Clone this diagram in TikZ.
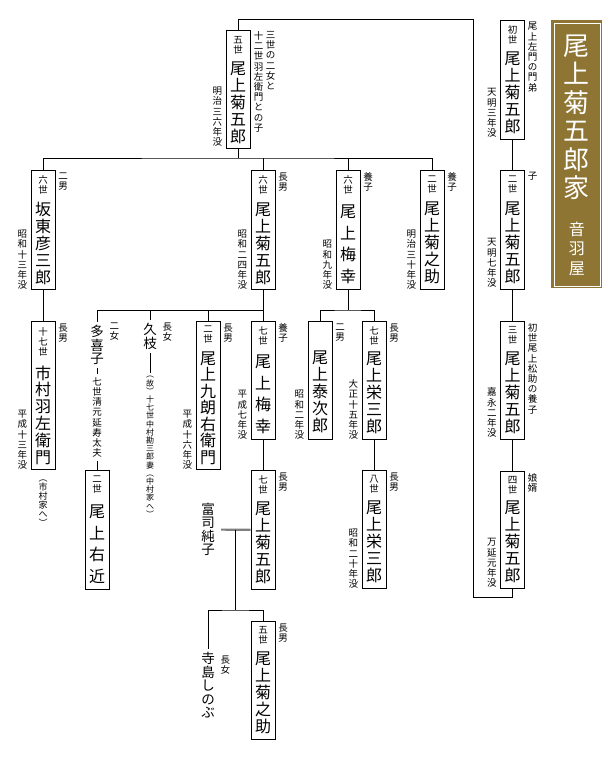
\documentclass[tikz,border=0pt]{standalone}
\usepackage{fontspec}
\setmainfont{Noto Sans CJK JP}
\usepackage{xcolor}
\usepackage{tikz}
\usetikzlibrary{positioning}
\definecolor{otowagold}{HTML}{8E7534}
\definecolor{tiegray}{HTML}{7F7F7F}

% one character per line (vertical writing)
\makeatletter
\newcommand\tate[1]{%
  \def\tate@out{}%
  \@tfor\tate@ch:=#1\do{%
    \edef\tate@out{\unexpanded\expandafter{\tate@out}%
      \ifx\tate@out\@empty\else\noexpand\\\fi
      \unexpanded\expandafter{\tate@ch}}}%
  \tate@out}
\makeatother

\begin{document}
\begin{tikzpicture}[x=1pt, y=-1pt, line width=0.9pt,
    kbox/.style={draw, minimum width=24pt, inner sep=0pt, anchor=north},
    gen/.style={align=center, inner sep=0pt, font=\fontsize{9.5}{10}\selectfont},
    nm/.style={align=center, inner sep=0pt, font=\fontsize{16}{16.8}\selectfont},
    nmwide/.style={nm, font=\fontsize{16}{21.5}\selectfont},
    note/.style={align=center, inner sep=0pt, font=\fontsize{9.5}{10.2}\selectfont},
    person/.style={align=center, inner xsep=1pt, inner ysep=3pt, font=\fontsize{13.5}{13.5}\selectfont},
    spouse/.style={draw=tiegray, line width=2.2pt}]
  \fill[white] (0,0) rectangle (610,760);
  \useasboundingbox (0,0) rectangle (610,760);

  % title
  \node[fill=otowagold, minimum width=51pt, minimum height=268pt, inner sep=0pt, anchor=north west] (title) at (551,20) {};
  \draw[white, line width=0.7pt] ([xshift=3pt,yshift=-3pt]title.north west) rectangle ([xshift=-3pt,yshift=3pt]title.south east);
  \node[align=center, inner sep=0pt, text=white, font=\fontsize{26}{28.5}\selectfont, below=14pt of title.north] (titlename) {\tate{尾上菊五郎家}};
  \node[align=center, inner sep=0pt, text=white, font=\fontsize{16}{19.5}\selectfont, above=13pt of title.south] (titleya) {\tate{音羽屋}};

  % 初世 - 四世
  \node[kbox, minimum height=119pt] (k1) at (512.5,20) {};
  \node[gen, below=5pt of k1.north] {\tate{初世}};
  \node[nm, above=6pt of k1.south] {\tate{尾上菊五郎}};
  \node[note, anchor=north west] at ([xshift=2.5pt,yshift=-2pt]k1.north east) {\tate{尾上左門の門弟}};
  \node[note, anchor=south east] at ([xshift=-3pt,yshift=2pt]k1.south west) {\tate{天明三年没}};

  \node[kbox, minimum height=119pt] (k2) at (512.5,170) {};
  \node[gen, below=5pt of k2.north] {\tate{二世}};
  \node[nm, above=6pt of k2.south] {\tate{尾上菊五郎}};
  \node[note, anchor=north west] at ([xshift=2.5pt,yshift=-2pt]k2.north east) {\tate{子}};
  \node[note, anchor=south east] at ([xshift=-3pt,yshift=2pt]k2.south west) {\tate{天明七年没}};

  \node[kbox, minimum height=118pt] (k3) at (512.5,321) {};
  \node[gen, below=5pt of k3.north] {\tate{三世}};
  \node[nm, above=6pt of k3.south] {\tate{尾上菊五郎}};
  \node[note, anchor=north west] at ([xshift=2.5pt,yshift=-2pt]k3.north east) {\tate{初世尾上松助の養子}};
  \node[note, anchor=south east] at ([xshift=-3pt,yshift=2pt]k3.south west) {\tate{嘉永二年没}};

  \node[kbox, minimum height=117pt] (k4) at (512.5,471) {};
  \node[gen, below=5pt of k4.north] {\tate{四世}};
  \node[nm, above=6pt of k4.south] {\tate{尾上菊五郎}};
  \node[note, anchor=north west] at ([xshift=2.5pt,yshift=-2pt]k4.north east) {\tate{娘婿}};
  \node[note, anchor=south east] at ([xshift=-3pt,yshift=1pt]k4.south west) {\tate{万延元年没}};

  % 五世
  \node[kbox, minimum height=118pt] (k5) at (238,30) {};
  \node[gen, below=6pt of k5.north] {\tate{五世}};
  \node[nm, above=5pt of k5.south] {\tate{尾上菊五郎}};
  \node[note, anchor=north west] (k5note) at ([xshift=3pt,yshift=-1pt]k5.north east) {\tate{十二世羽左衛門との子}};
  \node[note, anchor=north west] at ([xshift=1.5pt]k5note.north east) {\tate{三世の二女と}};
  \node[note, anchor=south east] at ([xshift=-3pt,yshift=2pt]k5.south west) {\tate{明治三六年没}};

  % 五世の子
  \node[kbox, minimum height=119pt] (hiko) at (43,170) {};
  \node[gen, below=5pt of hiko.north] {\tate{六世}};
  \node[nm, above=5pt of hiko.south] {\tate{坂東彦三郎}};
  \node[note, anchor=north west] at ([xshift=2.5pt,yshift=-2pt]hiko.north east) {\tate{二男}};
  \node[note, anchor=south east] at ([xshift=-3pt]hiko.south west) {\tate{昭和十三年没}};

  \node[kbox, minimum height=119pt] (k6) at (263,170) {};
  \node[gen, below=5pt of k6.north] {\tate{六世}};
  \node[nm, above=5pt of k6.south] {\tate{尾上菊五郎}};
  \node[note, anchor=north west] at ([xshift=2.5pt,yshift=-2pt]k6.north east) {\tate{長男}};
  \node[note, anchor=south east] at ([xshift=-3pt]k6.south west) {\tate{昭和二四年没}};

  \node[kbox, minimum height=119pt] (bai6) at (348,170) {};
  \node[gen, below=5pt of bai6.north] {\tate{六世}};
  \node[nmwide, above=6pt of bai6.south] {\tate{尾上梅幸}};
  \node[note, anchor=north west] at ([xshift=2.5pt,yshift=-2pt]bai6.north east) {\tate{養子}};
  \node[note, anchor=south east] at ([xshift=-3pt]bai6.south west) {\tate{昭和九年没}};

  \node[kbox, minimum height=119pt] (kiku2) at (432,170) {};
  \node[gen, below=5pt of kiku2.north] {\tate{二世}};
  \node[nm, above=6pt of kiku2.south] {\tate{尾上菊之助}};
  \node[note, anchor=north west] at ([xshift=2.5pt,yshift=-2pt]kiku2.north east) {\tate{養子}};
  \node[note, anchor=south east] at ([xshift=-3pt]kiku2.south west) {\tate{明治三十年没}};

  % 孫の代
  \node[kbox, minimum height=148pt] (uza) at (43,321) {};
  \node[gen, below=6pt of uza.north] {\tate{十七世}};
  \node[nm, above=5pt of uza.south] {\tate{市村羽左衛門}};
  \node[note, anchor=north west] at ([xshift=2.5pt,yshift=-2pt]uza.north east) {\tate{長男}};
  \node[note, anchor=south east] at ([xshift=-3pt]uza.south west) {\tate{平成十三年没}};
  \node[note, font=\fontsize{9}{9}\selectfont, below=9pt of uza.south] {\tate{︵市村家へ︶}};

  \node[person, anchor=north] (taki) at (97,322) {\tate{多喜子}};
  \node[note, anchor=north west] at ([xshift=4pt]taki.north east) {\tate{二女}};
  \node[note, anchor=north, inner ysep=3pt] (kiyo) at (97,374) {\tate{七世清元延寿太夫}};

  \node[person, anchor=north] (hisae) at (150,320) {\tate{久枝}};
  \node[note, anchor=north west] at ([xshift=4pt,yshift=-2pt]hisae.north east) {\tate{長女}};
  \node[note, anchor=north, inner ysep=3pt, font=\fontsize{8}{8.2}\selectfont] (kan) at (150,373) {\tate{︵故︶十七世中村勘三郎妻︵中村家へ︶}};

  \node[kbox, minimum height=148pt] (kuro) at (208,321) {};
  \node[gen, below=4pt of kuro.north] {\tate{二世}};
  \node[nm, font=\fontsize{16}{16.5}\selectfont, above=5pt of kuro.south] {\tate{尾上九朗右衛門}};
  \node[note, anchor=north west] at ([xshift=2.5pt,yshift=-2pt]kuro.north east) {\tate{長男}};
  \node[note, anchor=south east] at ([xshift=-3pt]kuro.south west) {\tate{平成十六年没}};

  \node[kbox, minimum height=118pt] (bai7) at (263,321) {};
  \node[gen, below=5pt of bai7.north] {\tate{七世}};
  \node[nmwide, above=6pt of bai7.south] {\tate{尾上梅幸}};
  \node[note, anchor=north west] at ([xshift=2.5pt,yshift=-2pt]bai7.north east) {\tate{養子}};
  \node[note, anchor=south east] at ([xshift=-3pt]bai7.south west) {\tate{平成七年没}};

  \node[kbox, minimum height=118pt] (tai) at (320,321) {};
  \node[nm, above=7pt of tai.south] {\tate{尾上泰次郎}};
  \node[note, anchor=north west] at ([xshift=2.5pt,yshift=-2pt]tai.north east) {\tate{二男}};
  \node[note, anchor=south east] at ([xshift=-3pt]tai.south west) {\tate{昭和二年没}};

  \node[kbox, minimum height=118pt] (ei7) at (374,321) {};
  \node[gen, below=5pt of ei7.north] {\tate{七世}};
  \node[nm, above=6pt of ei7.south] {\tate{尾上栄三郎}};
  \node[note, anchor=north west] at ([xshift=2.5pt,yshift=-2pt]ei7.north east) {\tate{長男}};
  \node[note, anchor=south east] at ([xshift=-3pt]ei7.south west) {\tate{大正十五年没}};

  % 曾孫の代
  \node[kbox, minimum height=119pt] (ukon) at (97,470) {};
  \node[gen, below=5pt of ukon.north] {\tate{二世}};
  \node[nmwide, above=6pt of ukon.south] {\tate{尾上右近}};

  \node[kbox, minimum height=119pt] (k7) at (263,470) {};
  \node[gen, below=5pt of k7.north] {\tate{七世}};
  \node[nm, above=6pt of k7.south] {\tate{尾上菊五郎}};
  \node[note, anchor=north west] at ([xshift=2.5pt,yshift=-2pt]k7.north east) {\tate{長男}};
  \node[person] (junko) at (208,529.5) {\tate{富司純子}};

  \node[kbox, minimum height=118pt] (ei8) at (374,470) {};
  \node[gen, below=5pt of ei8.north] {\tate{八世}};
  \node[nm, above=6pt of ei8.south] {\tate{尾上栄三郎}};
  \node[note, anchor=north west] at ([xshift=2.5pt,yshift=-2pt]ei8.north east) {\tate{長男}};
  \node[note, anchor=south east] at ([xshift=-3pt]ei8.south west) {\tate{昭和二十年没}};

  \node[kbox, minimum height=118pt] (kin5) at (263,621) {};
  \node[gen, below=5pt of kin5.north] {\tate{五世}};
  \node[nm, above=6pt of kin5.south] {\tate{尾上菊之助}};
  \node[note, anchor=north west] at ([xshift=2.5pt,yshift=-2pt]kin5.north east) {\tate{長男}};

  \node[person, anchor=north] (shinobu) at (208,649) {\tate{寺島しのぶ}};
  \node[note, anchor=north west] at ([xshift=4pt,yshift=-6pt]shinobu.north east) {\tate{長女}};

  % connectors
  \coordinate (railtop) at (473,19);
  \coordinate (railbot) at (473,597);
  \coordinate (bus6) at (238,158);
  \coordinate (bus7) at (263,310);
  \coordinate (bus8) at (348,310);
  \coordinate (wed) at (235,529.5);
  \coordinate (bus9) at (235,610);

  \draw (k5.north) |- (railtop) -- (railbot) -| (k4.south);
  \draw (k1) -- (k2);
  \draw (k2) -- (k3);
  \draw (k3) -- (k4);

  \draw (k5.south) -- (bus6);
  \draw (hiko.north) |- (bus6) -| (kiku2.north);
  \draw (k6.north) -- (k6.north |- bus6);
  \draw (bai6.north) -- (bai6.north |- bus6);
  \draw (hiko) -- (uza);

  \draw (k6) -- (bai7);
  \draw (taki.north) |- (bus7);
  \draw (hisae.north) -- (hisae.north |- bus7);
  \draw (kuro.north) -- (kuro.north |- bus7);
  \draw (taki) -- (kiyo);
  \draw (kiyo) -- (ukon);
  \draw (hisae) -- (kan);

  \draw (bai6.south) -- (bus8);
  \draw (tai.north) |- (bus8) -| (ei7.north);

  \draw (bai7) -- (k7);
  \draw (ei7) -- (ei8);
  \draw[spouse, shorten <=5pt] (junko) -- (k7);
  \draw (wed) -- (bus9);
  \draw (shinobu.north) |- (bus9) -| (kin5.north);
\end{tikzpicture}
\end{document}
